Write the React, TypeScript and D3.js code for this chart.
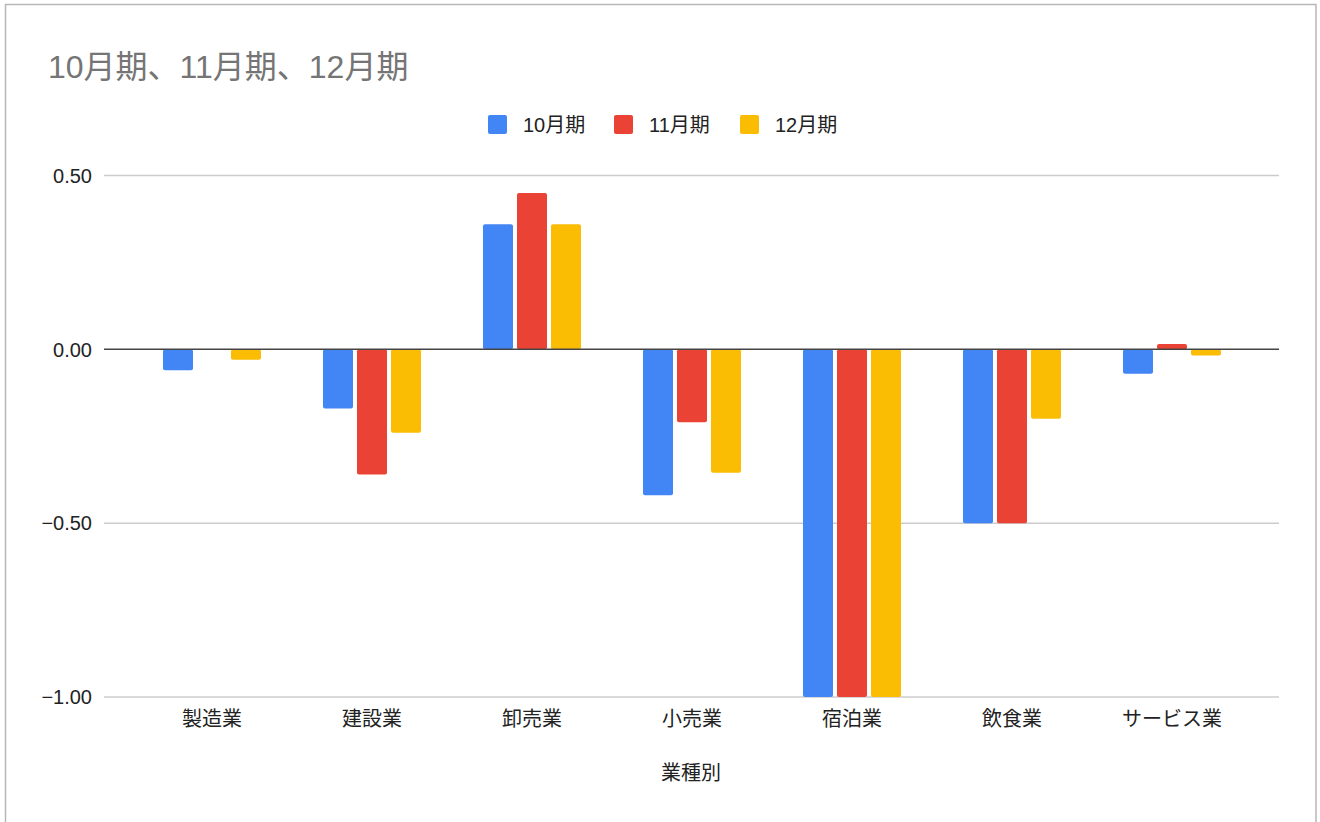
import React, { useEffect } from 'react';
import * as d3 from 'd3';

const categories = ['製造業', '建設業', '卸売業', '小売業', '宿泊業', '飲食業', 'サービス業'];
const seriesNames = ['10月期', '11月期', '12月期'];
const oct = [-0.06, -0.17, 0.36, -0.42, -1.0, -0.5, -0.07];
const nov = [0.0, -0.36, 0.45, -0.21, -1.0, -0.5, 0.015];
const dec = [-0.03, -0.24, 0.36, -0.355, -1.0, -0.2, -0.018];
const yTicks = [0.5, 0, -0.5, -1];
const colors = ['#4285f4', '#ea4335', '#fbbc04'];

const W = 1320;
const H = 822;
const FONT = '"Liberation Sans", Arial, "Noto Sans CJK JP", sans-serif';

const App: React.FC = () => {
  useEffect(() => {
    document.body.style.margin = '0';
  }, []);

  const values = [oct, nov, dec];

  const y = d3.scaleLinear().domain([-1, 0.5]).range([697, 175.5]);
  const x = d3.scaleBand<string>()
    .domain(categories)
    .range([132, 1252])
    .paddingInner(0.3875)
    .paddingOuter(0.19375);
  const xs = d3.scaleBand<string>()
    .domain(seriesNames)
    .range([0, x.bandwidth()])
    .paddingInner(4 / 34);

  const gridLeft = 104;
  const gridRight = 1279;
  const fmt = d3.format('.2f');

  const legendStep = 126;
  const legendStart = 488;

  return (
    <svg width={W} height={H} style={{ display: 'block', fontFamily: FONT }}>
      <rect x={0} y={0} width={W} height={H} fill="#fff" />
      <rect x={5.5} y={4.5} width={1310.5} height={H + 10} fill="none" stroke="#b7b7b7" strokeWidth={1.5} />

      {/* title */}
      <text x={48} y={78} fontSize={32} fill="#757575">10月期、11月期、12月期</text>

      {/* legend */}
      {seriesNames.map((s, i) => (
        <g key={s} transform={`translate(${legendStart + i * legendStep}, 115)`}>
          <rect width={19} height={19} rx={2} fill={colors[i]} />
          <text x={35} y={16.5} fontSize={20} fill="#222">{s}</text>
        </g>
      ))}

      {/* gridlines and y ticks */}
      {yTicks.map(t => (
        <g key={t}>
          {t !== 0 && (
            <line x1={gridLeft} x2={gridRight} y1={y(t)} y2={y(t)} stroke="#cccccc" strokeWidth={1.5} />
          )}
          <text x={92} y={y(t)} dy="0.36em" textAnchor="end" fontSize={20} fill="#222">
            {fmt(t)}
          </text>
        </g>
      ))}

      {/* bars */}
      {categories.map((c, ci) => (
        <g key={c} transform={`translate(${x(c)}, 0)`}>
          {seriesNames.map((s, si) => {
            const v = values[si][ci];
            const y0 = y(0);
            const y1 = y(v);
            return (
              <rect
                key={s}
                x={xs(s)}
                y={Math.min(y0, y1)}
                width={xs.bandwidth()}
                height={Math.abs(y1 - y0)}
                rx={2}
                fill={colors[si]}
              />
            );
          })}
        </g>
      ))}

      {/* zero line */}
      <line x1={gridLeft} x2={gridRight} y1={y(0)} y2={y(0)} stroke="#444" strokeWidth={1.5} />

      {/* x labels */}
      {categories.map(c => (
        <text
          key={c}
          x={(x(c) ?? 0) + x.bandwidth() / 2}
          y={726}
          textAnchor="middle"
          fontSize={20}
          fill="#222"
        >
          {c}
        </text>
      ))}

      <text x={691} y={780} textAnchor="middle" fontSize={20} fill="#222">業種別</text>
    </svg>
  );
};

export default App;
